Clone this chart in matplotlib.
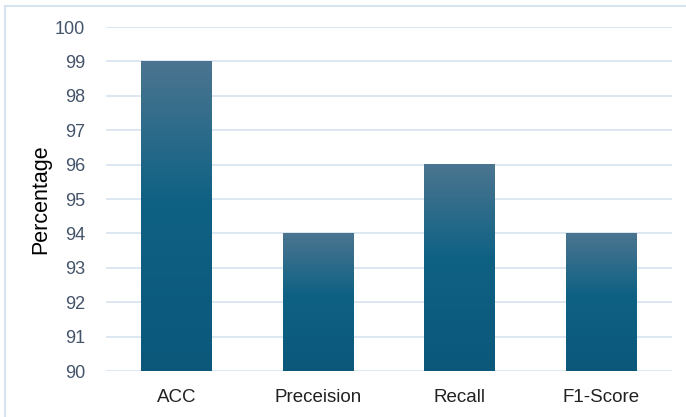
import numpy as np
import matplotlib.pyplot as plt
from matplotlib.colors import LinearSegmentedColormap

categories = ["ACC", "Preceision", "Recall", "F1-Score"]
scores = [99, 94, 96, 94]
yticks = [90, 91, 92, 93, 94, 95, 96, 97, 98, 99, 100]

plt.rcParams['font.family'] = ['Liberation Sans', 'DejaVu Sans']

fig = plt.figure(figsize=(6.86, 4.17), dpi=100)
ax = fig.add_axes([106/686, 1 - 371/417, 566/686, 344/417])

# chart frame (top and left edges)
fig.add_artist(plt.Line2D([5/686, 5/686], [0, 1 - 6/417], color="#d6e3f0", lw=1.5))
fig.add_artist(plt.Line2D([5/686, 1], [1 - 6/417, 1 - 6/417], color="#d6e3f0", lw=1.5))

grad = LinearSegmentedColormap.from_list(
    "bar", [(0.0, "#0b587b"), (0.55, "#0f6184"), (1.0, "#4b7590")])

x = np.arange(len(categories))
width = 0.5
bars = ax.bar(x, scores, width=width, bottom=0, color="none", zorder=2)
for b in bars:
    x0 = b.get_x()
    h = b.get_height()
    ax.imshow(np.linspace(0, 1, 256).reshape(-1, 1), cmap=grad, origin="lower",
              extent=[x0, x0 + width, 90, h], aspect="auto", zorder=2)

ax.set_xlim(-0.5, len(categories) - 0.5)
ax.set_ylim(90, 100)
ax.set_yticks(yticks)
ax.set_xticks(x)
ax.set_xticklabels(categories)
ax.grid(axis="y", color="#d6e3f0", lw=1.2, zorder=0)
ax.set_axisbelow(True)
for s in ax.spines.values():
    s.set_visible(False)
ax.tick_params(length=0)
ax.tick_params(axis="y", labelsize=13, labelcolor="#44546a", pad=15)
ax.tick_params(axis="x", labelsize=13.5, labelcolor="#222222", pad=13)
ax.set_ylabel("Percentage", fontsize=15.5, color="black")
ax.yaxis.set_label_coords(-0.097, 0.5)

plt.savefig("out.png", dpi=100)
